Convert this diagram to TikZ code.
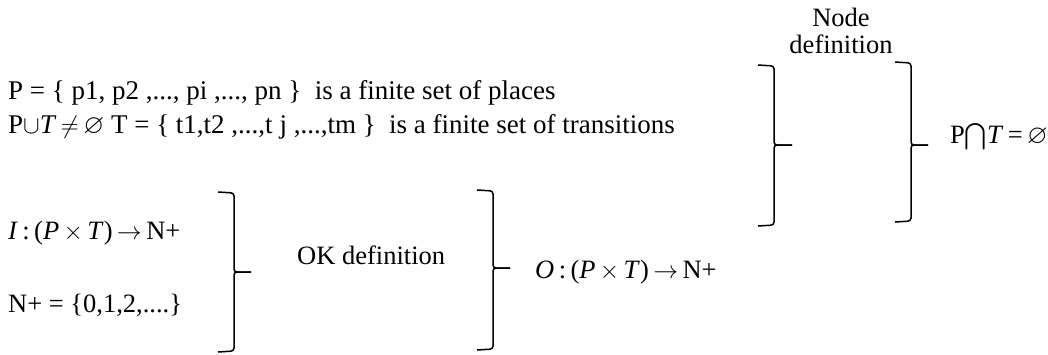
\documentclass[tikz,border=0pt]{standalone}
\usepackage{amssymb}
\usepackage{fontspec}
\setmainfont{Liberation Serif}
\begin{document}
\begin{tikzpicture}[x=1pt,y=-1pt,
  txt/.style={anchor=base west,inner sep=0pt,font=\fontsize{26.5}{30}\selectfont},
  wtxt/.style={txt,font=\fontsize{27}{30}\selectfont},
  ctxt/.style={anchor=base,inner sep=0pt,font=\fontsize{26.5}{30}\selectfont},
  brk/.style={line width=1.5pt,rounded corners=3pt}]
\useasboundingbox (0,0) rectangle (1048,354);
% texts
\node[wtxt] (places) at (8,99) {P = \{ p1, p2 ,..., pi ,..., pn \}\ \ is a finite set of places};
\node[wtxt] (trans) at (8,133) {P$\cup$\textit{T}\,$\neq$\,$\varnothing$ T = \{ t1,t2 ,...,t j ,...,tm \}\ \ is a finite set of transitions};
\node[ctxt] (node1) at (841,26) {Node};
\node[ctxt] (node2) at (841,53) {definition};
\node[txt] (cap) at (950,143) {P$\bigcap$\textit{T}\,=\,$\varnothing$};
\node[txt] (input) at (8,239) {\textit{I}\,:\,(\textit{P}\,$\times$\,\textit{T})\,$\rightarrow$\,N+};
\node[txt] (nplus) at (8,312) {N+ = \{0,1,2,....\}};
\node[txt] (ok) at (297,264) {OK definition};
\node[txt] (output) at (535,278) {\textit{O}\,:\,(\textit{P}\,$\times$\,\textit{T})\,$\rightarrow$\,N+};
% brackets
\draw[brk] (758,65) -- (774,66) -- (774,145) -- (792,145);
\draw[brk] (792,145) -- (774,145) -- (774,225) -- (758,226);
\draw[brk] (895,62) -- (911,63) -- (911,145) -- (928,145);
\draw[brk] (928,145) -- (911,145) -- (911,221) -- (895,222);
\draw[brk] (218,192) -- (234,193) -- (234,272) -- (251,272);
\draw[brk] (251,272) -- (234,272) -- (234,351) -- (218,352);
\draw[brk] (477,190) -- (493,191) -- (493,268) -- (510,268);
\draw[brk] (510,268) -- (493,268) -- (493,349) -- (477,350);
\end{tikzpicture}
\end{document}
